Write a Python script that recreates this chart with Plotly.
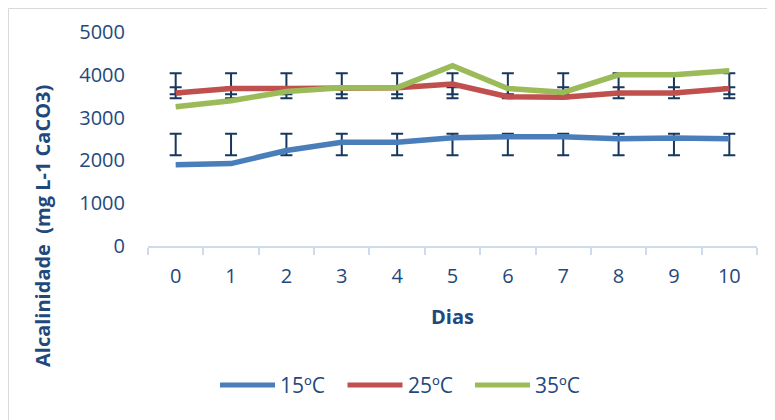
import plotly.graph_objects as go

days = ["0", "1", "2", "3", "4", "5", "6", "7", "8", "9", "10"]
t15 = [1900, 1925, 2230, 2425, 2425, 2530, 2555, 2555, 2505, 2525, 2505]
t25 = [3575, 3680, 3680, 3680, 3700, 3785, 3490, 3475, 3575, 3575, 3680]
t35 = [3255, 3395, 3610, 3700, 3700, 4210, 3680, 3590, 4000, 4000, 4095]

# error bars as drawn in the reference (centres and half-widths)
eb_low_center = [2370, 2370, 2370, 2370, 2370, 2370, 2370, 2370, 2370, 2370, 2370]
eb_low_err = [252, 252, 252, 252, 252, 252, 252, 252, 252, 252, 252]
eb_high_center = [3745, 3745, 3745, 3745, 3745, 3745, 3745, 3745, 3745, 3745, 3745]
eb_high_err = [290, 290, 290, 290, 290, 290, 290, 290, 290, 290, 290]
eb_mid_center = [3628, 3628, 3628, 3628, 3628, 3628, 3628, 3628, 3628, 3628, 3628]
eb_mid_err = [80, 80, 80, 80, 80, 80, 80, 80, 80, 80, 80]

series_names = ["15ºC", "25ºC", "35ºC"]
colors = ["#4A7EBB", "#C0504D", "#9BBB59"]
x_title = "Dias"
y_title = "Alcalinidade  (mg L-1 CaCO3)"

TXT = "#1F497D"
EBC = "#17375E"
FONT = "Open Sans"

fig = go.Figure()

for c, e in [(eb_low_center, eb_low_err), (eb_high_center, eb_high_err), (eb_mid_center, eb_mid_err)]:
    fig.add_trace(go.Scatter(
        x=days, y=c, mode="markers",
        marker=dict(size=1, color="rgba(0,0,0,0)"),
        error_y=dict(type="data", array=e, visible=True, color=EBC, thickness=2, width=6),
        showlegend=False, hoverinfo="skip",
    ))

for name, vals, col in zip(series_names, [t15, t25, t35], colors):
    fig.add_trace(go.Scatter(
        x=days, y=vals, mode="lines", name=name,
        line=dict(color=col, width=5.5), showlegend=False,
    ))

# page has an 8px body margin: work in page pixels, convert to figure pixels
OFF = 8
W, H = 775 - OFF, 420 - OFF
PL, PR, PT, PB = 148, 757, 32, 246  # plot area in page pixels
ml, mr, mt, mb = PL - OFF, (775 - PR), PT - OFF, (420 - PB)
pw = PR - PL
ph = PB - PT

def px2paper_x(px):
    return (px - PL) / pw

def px2paper_y(py):
    return (PB - py) / ph

shapes = [dict(
    type="rect", xref="paper", yref="paper",
    x0=px2paper_x(8.5), x1=px2paper_x(900), y0=px2paper_y(8.5), y1=px2paper_y(600),
    line=dict(color="#D9D9D9", width=1), fillcolor="rgba(0,0,0,0)", layer="below",
)]
annotations = [dict(
    text="<b>" + y_title + "</b>", xref="paper", yref="paper",
    x=px2paper_x(42), y=px2paper_y(226), xanchor="center", yanchor="middle",
    textangle=-90, showarrow=False, font=dict(size=20, color=TXT),
)]

# custom legend (long line samples like the reference)
leg_y = px2paper_y(385)
for i, (name, col) in enumerate(zip(series_names, colors)):
    x0 = 220 + i * 127.5
    shapes.append(dict(
        type="line", xref="paper", yref="paper",
        x0=px2paper_x(x0), x1=px2paper_x(x0 + 55), y0=leg_y, y1=leg_y,
        line=dict(color=col, width=5),
    ))
    annotations.append(dict(
        text=name, xref="paper", yref="paper",
        x=px2paper_x(x0 + 58), y=leg_y, xanchor="left", yanchor="middle",
        showarrow=False, font=dict(size=21, color=TXT),
    ))

fig.update_layout(
    width=W, height=H,
    margin=dict(l=ml, r=mr, t=mt, b=mb, autoexpand=False),
    paper_bgcolor="white", plot_bgcolor="white",
    font=dict(family=FONT, color=TXT, size=20),
    showlegend=False,
    xaxis=dict(
        type="category", range=[-0.5, 10.5], automargin=False,
        showline=True, linecolor="#D0DBEA", linewidth=2,
        ticks="outside", tickson="boundaries", ticklen=7, tickwidth=2, tickcolor="#D0DBEA",
        showgrid=False, zeroline=False,
        tickfont=dict(size=20, color=TXT),
        ticklabelstandoff=11,
        title=dict(text="<b>" + x_title + "</b>", font=dict(size=20, color=TXT), standoff=22),
    ),
    yaxis=dict(
        range=[0, 5000], dtick=1000, showgrid=False, zeroline=False, showline=False,
        automargin=False,
        ticks="", tickfont=dict(size=20, color=TXT),
        ticklabelstandoff=22,
    ),
    shapes=shapes,
    annotations=annotations,
)

fig.write_html("out.html")
